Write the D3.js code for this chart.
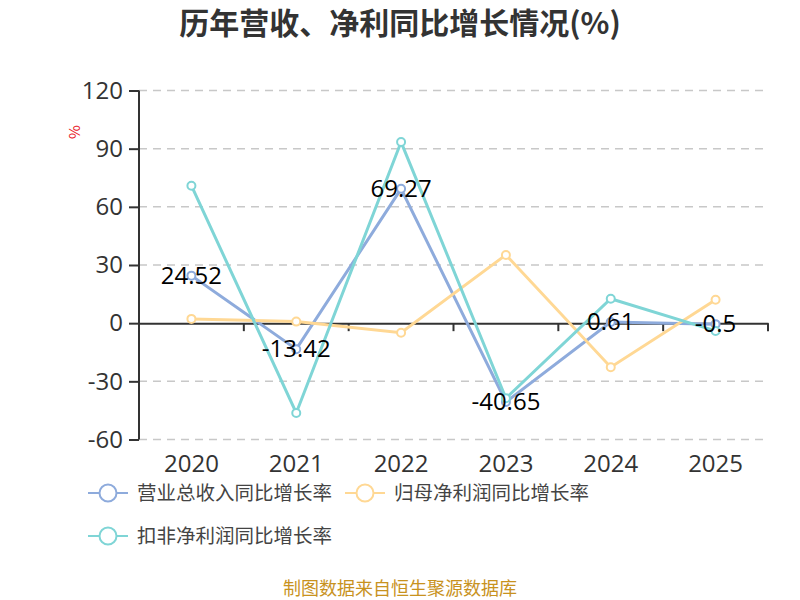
<!DOCTYPE html>
<html><head><meta charset="utf-8">
<script src="https://cdn.jsdelivr.net/npm/d3@7"></script>
<style>body{margin:0;background:#fff;font-family:"Noto Sans CJK SC","Noto Sans",sans-serif;}</style>
</head><body><svg id="c" width="800" height="600"></svg>
<script>
const years = ["2020","2021","2022","2023","2024","2025"];
const revenueGrowth = [24.52, -13.42, 69.27, -40.65, 0.61, -0.5];
const netProfitGrowth = [2.2, 0.8, -4.9, 35.2, -22.7, 12.1];
const deductedProfitGrowth = [70.9, -46.3, 93.4, -38.7, 12.6, -4.0];
const yTicks = [-60, -30, 0, 30, 60, 90, 120];
const seriesNames = ["营业总收入同比增长率", "归母净利润同比增长率", "扣非净利润同比增长率"];
const seriesColors = ["#8eabdc", "#ffd894", "#7fd5d6"];

const svg = d3.select("#c");
const pLeft = 139, pRight = 768, pTop = 90.5, pBottom = 439.5;
const x = d3.scaleBand().domain(years).range([pLeft, pRight]);
const y = d3.scaleLinear().domain([-60, 120]).range([pBottom, pTop]);
const numFont = "'Open Sans','Noto Sans',sans-serif";

svg.append("text").attr("x", 400).attr("y", 34).attr("text-anchor", "middle")
  .attr("font-size", 30).attr("font-weight", "bold").attr("fill", "#333")
  .text("历年营收、净利同比增长情况(%)");

// grid
svg.append("g").selectAll("line").data(yTicks.filter(d => d !== 0)).join("line")
  .attr("x1", pLeft).attr("x2", pRight).attr("y1", d => y(d)).attr("y2", d => y(d))
  .attr("stroke", "#c8c8c8").attr("stroke-width", 1.5).attr("stroke-dasharray", "8,6");

// y axis
const yAxis = svg.append("g").attr("transform", `translate(${pLeft},0)`)
  .call(d3.axisLeft(y).tickValues(yTicks).tickFormat(d => String(d)).tickSize(10).tickPadding(6));
yAxis.select(".domain").attr("stroke", "#333").attr("stroke-width", 2).attr("d", `M0,${pTop}V${pBottom}`);
yAxis.selectAll(".tick line").attr("stroke", "#333").attr("stroke-width", 2);
yAxis.selectAll(".tick text").attr("font-size", 24).attr("fill", "#333")
  .attr("font-family", numFont);

// x axis at zero
const xAxis = svg.append("g").attr("transform", `translate(0,${y(0)})`)
  .call(d3.axisBottom(x).tickSize(0).tickPadding(0));
xAxis.select(".domain").attr("stroke", "#333").attr("stroke-width", 2);
xAxis.selectAll(".tick text").remove();
const bounds = years.map(d => x(d)).concat([pRight]);
xAxis.append("g").selectAll("line").data(bounds).join("line")
  .attr("x1", d => d).attr("x2", d => d).attr("y1", 0).attr("y2", 8)
  .attr("stroke", "#333").attr("stroke-width", 2);
svg.append("g").selectAll("text").data(years).join("text")
  .attr("x", d => x(d) + x.bandwidth() / 2).attr("y", 472).attr("text-anchor", "middle")
  .attr("font-size", 24).attr("fill", "#333").attr("font-family", numFont)
  .text(d => d);

// y axis unit
svg.append("text").attr("transform", "translate(80,132) rotate(-90)").attr("text-anchor", "middle")
  .attr("font-size", 15).attr("fill", "#e8141e").text("%");

// series
const allSeries = [revenueGrowth, netProfitGrowth, deductedProfitGrowth];
const line = d3.line().x((d, i) => x(years[i]) + x.bandwidth() / 2).y(d => y(d));
allSeries.forEach((s, k) => {
  const g = svg.append("g");
  g.append("path").attr("d", line(s)).attr("fill", "none")
    .attr("stroke", seriesColors[k]).attr("stroke-width", 3);
  g.selectAll("circle").data(s).join("circle")
    .attr("cx", (d, i) => x(years[i]) + x.bandwidth() / 2).attr("cy", d => y(d)).attr("r", 4)
    .attr("fill", "#fff").attr("stroke", seriesColors[k]).attr("stroke-width", 2);
});
// labels for revenue
svg.append("g").selectAll("text").data(revenueGrowth).join("text")
  .attr("x", (d, i) => x(years[i]) + x.bandwidth() / 2).attr("y", d => y(d) + 8)
  .attr("text-anchor", "middle").attr("font-size", 24).attr("fill", "#000")
  .attr("font-family", numFont)
  .text(d => String(d));

// legend
const legendPos = [[88, 493], [345, 493], [88, 536]];
seriesNames.forEach((n, k) => {
  const [lx, ly] = legendPos[k];
  const g = svg.append("g");
  g.append("line").attr("x1", lx).attr("x2", lx + 40).attr("y1", ly).attr("y2", ly)
    .attr("stroke", seriesColors[k]).attr("stroke-width", 2);
  g.append("circle").attr("cx", lx + 20).attr("cy", ly).attr("r", 8.5)
    .attr("fill", "#fff").attr("stroke", seriesColors[k]).attr("stroke-width", 2);
  g.append("text").attr("x", lx + 49).attr("y", ly + 7).attr("font-size", 19.5)
    .attr("fill", "#444").text(n);
});

svg.append("text").attr("x", 400).attr("y", 595).attr("text-anchor", "middle")
  .attr("font-size", 18).attr("fill", "#c8921e").text("制图数据来自恒生聚源数据库");
</script></body></html>
